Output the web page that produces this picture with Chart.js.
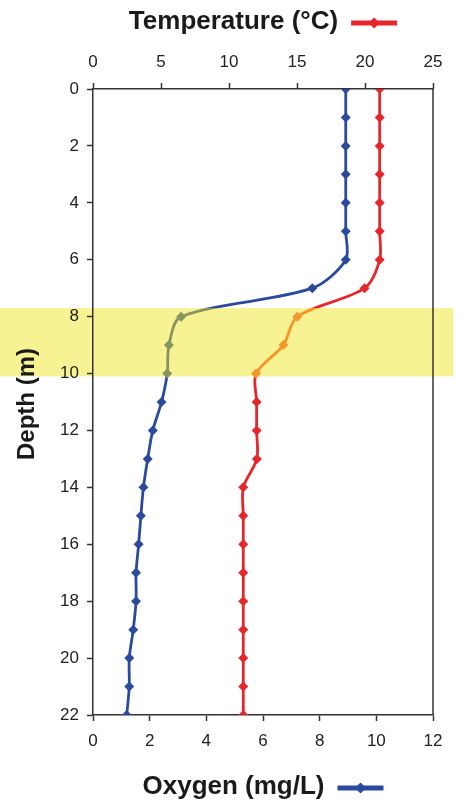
<!DOCTYPE html>
<html>
<head>
<meta charset="utf-8">
<script src="https://cdn.jsdelivr.net/npm/chart.js@4.4.1/dist/chart.umd.min.js"></script>
<style>
  html, body { margin: 0; padding: 0; background: #fff; }
  #wrap { width: 461px; height: 806px; }
</style>
</head>
<body>
<div id="wrap"><canvas id="profileChart"></canvas></div>
<script>
// depth profile data (m)
const depths = [0, 1, 2, 3, 4, 5, 6, 7, 8, 9, 10, 11, 12, 13, 14, 15, 16, 17, 18, 19, 20, 21, 22];
const oxygen = [8.92, 8.92, 8.92, 8.92, 8.92, 8.92, 8.92, 7.74, 3.11, 2.68, 2.62, 2.42, 2.11, 1.93, 1.78, 1.69, 1.61, 1.52, 1.52, 1.42, 1.28, 1.28, 1.19];
const temperature = [21.08, 21.08, 21.08, 21.08, 21.08, 21.08, 21.08, 19.97, 15.02, 14.0, 11.99, 12.03, 12.03, 12.05, 11.05, 11.05, 11.05, 11.05, 11.05, 11.05, 11.05, 11.05, 11.05];
const depthTicks = [0, 2, 4, 6, 8, 10, 12, 14, 16, 18, 20, 22];
const oxygenTicks = [0, 2, 4, 6, 8, 10, 12];
const tempTicks = [0, 5, 10, 15, 20, 25];
// thermocline band (m)
const bandStart = 7.7;
const bandEnd = 10.1;

const FONT = "'Liberation Sans', Arial, sans-serif";
const BLUE = "#2b4a9d";
const OLIVE = "#8a9461";
const RED = "#e7262b";
const ORANGE = "#f5952a";
const BAND = "#f8f392";

function inBand(d) {
  return d >= bandStart && d <= bandEnd;
}

// vertical gradient so the part of the line inside the band changes colour
function bandGradient(context, outside, inside) {
  const chart = context.chart;
  if (!chart.chartArea) return outside;
  const y = chart.scales.y;
  const h = chart.height;
  const t = y.getPixelForValue(bandStart) / h;
  const b = y.getPixelForValue(bandEnd) / h;
  const g = chart.ctx.createLinearGradient(0, 0, 0, h);
  g.addColorStop(0, outside);
  g.addColorStop(t, outside);
  g.addColorStop(t, inside);
  g.addColorStop(b, inside);
  g.addColorStop(b, outside);
  g.addColorStop(1, outside);
  return g;
}

const bandPlugin = {
  id: "band",
  beforeDraw(chart) {
    const { ctx, chartArea, scales } = chart;
    const top = scales.y.getPixelForValue(bandStart);
    const bottom = scales.y.getPixelForValue(bandEnd);
    ctx.save();
    ctx.fillStyle = BAND;
    ctx.fillRect(0, top, chartArea.right + 20, bottom - top);
    ctx.restore();
  },
  beforeDatasetsDraw(chart) {
    // right frame line
    const { ctx, chartArea } = chart;
    ctx.save();
    ctx.strokeStyle = "#333";
    ctx.lineWidth = 1.5;
    ctx.beginPath();
    ctx.moveTo(chartArea.right, chartArea.top);
    ctx.lineTo(chartArea.right, chartArea.bottom);
    ctx.stroke();
    ctx.restore();
  },
};

function drawTitle(ctx, text, cx, cy, color) {
  ctx.font = "bold 26px " + FONT;
  const w = ctx.measureText(text).width;
  const gap = 13, len = 46;
  const x0 = cx - (w + gap + len) / 2;
  ctx.fillStyle = "#1a1a1a";
  ctx.textAlign = "left";
  ctx.textBaseline = "middle";
  ctx.fillText(text, x0, cy);
  const lx = x0 + w + gap;
  ctx.strokeStyle = color;
  ctx.lineWidth = 5;
  ctx.beginPath();
  ctx.moveTo(lx, cy + 1);
  ctx.lineTo(lx + len, cy + 1);
  ctx.stroke();
  ctx.fillStyle = color;
  const mx = lx + len / 2, r = 5.5;
  ctx.beginPath();
  ctx.moveTo(mx, cy + 1 - r);
  ctx.lineTo(mx + r, cy + 1);
  ctx.lineTo(mx, cy + 1 + r);
  ctx.lineTo(mx - r, cy + 1);
  ctx.closePath();
  ctx.fill();
}

const titlePlugin = {
  id: "titles",
  afterDraw(chart) {
    const { ctx, chartArea } = chart;
    const cx = (chartArea.left + chartArea.right) / 2;
    ctx.save();
    drawTitle(ctx, "Temperature (°C)", cx, 22, RED);
    drawTitle(ctx, "Oxygen (mg/L)", cx, 787, BLUE);
    // depth axis title
    ctx.translate(27, (chartArea.top + chartArea.bottom) / 2 + 2);
    ctx.rotate(-Math.PI / 2);
    ctx.font = "bold 24px " + FONT;
    ctx.fillStyle = "#1a1a1a";
    ctx.textAlign = "center";
    ctx.textBaseline = "middle";
    ctx.fillText("Depth (m)", 0, 0);
    ctx.restore();
  },
};

const tickFont = { family: FONT, size: 17 };
const gridOpts = { drawOnChartArea: false, drawTicks: true, tickLength: 6, tickColor: "#333", tickWidth: 1.5 };
const borderOpts = { display: true, color: "#333", width: 1.5 };

const data = {
  datasets: [
    {
      label: "Oxygen (mg/L)",
      data: depths.map((d, i) => ({ x: oxygen[i], y: d })),
      xAxisID: "x",
      yAxisID: "y",
      showLine: true,
      tension: 0.3,
      borderWidth: 2.8,
      borderColor: (c) => bandGradient(c, BLUE, OLIVE),
      pointStyle: "rectRot",
      pointRadius: 5,
      pointBorderWidth: 0,
      pointBackgroundColor: (c) => (inBand(depths[c.dataIndex]) ? OLIVE : BLUE),
      pointBorderColor: (c) => (inBand(depths[c.dataIndex]) ? OLIVE : BLUE),
    },
    {
      label: "Temperature (°C)",
      data: depths.map((d, i) => ({ x: temperature[i], y: d })),
      xAxisID: "x2",
      yAxisID: "y",
      showLine: true,
      tension: 0.3,
      borderWidth: 2.8,
      borderColor: (c) => bandGradient(c, RED, ORANGE),
      pointStyle: "rectRot",
      pointRadius: 5,
      pointBorderWidth: 0,
      pointBackgroundColor: (c) => (inBand(depths[c.dataIndex]) ? ORANGE : RED),
      pointBorderColor: (c) => (inBand(depths[c.dataIndex]) ? ORANGE : RED),
    },
  ],
};

const config = {
  type: "scatter",
  data: data,
  options: {
    responsive: true,
    maintainAspectRatio: false,
    animation: false,
    layout: {
      padding: { left: 0, right: 28, top: 0, bottom: 0 },
    },
    plugins: {
      legend: { display: false },
      tooltip: { enabled: false },
    },
    scales: {
      x: {
        type: "linear",
        position: "bottom",
        min: 0,
        max: 12,
        afterBuildTicks: (s) => { s.ticks = oxygenTicks.map((v) => ({ value: v })); },
        ticks: { font: tickFont, color: "#222", padding: 10 },
        grid: gridOpts,
        border: borderOpts,
        afterFit: (s) => { s.height = 91; },
      },
      x2: {
        type: "linear",
        position: "top",
        min: 0,
        max: 25,
        afterBuildTicks: (s) => { s.ticks = tempTicks.map((v) => ({ value: v })); },
        ticks: { font: tickFont, color: "#222", padding: 10 },
        grid: gridOpts,
        border: borderOpts,
        afterFit: (s) => { s.height = 89; },
      },
      y: {
        type: "linear",
        reverse: true,
        min: 0,
        max: 22,
        afterBuildTicks: (s) => { s.ticks = depthTicks.map((v) => ({ value: v })); },
        ticks: { font: tickFont, color: "#222", padding: 8 },
        grid: gridOpts,
        border: borderOpts,
        afterFit: (s) => { s.width = 93; },
      },
    },
  },
  plugins: [bandPlugin, titlePlugin],
};

const ctx = document.getElementById("profileChart").getContext("2d");
let profileChart = new Chart(ctx, config);
</script>
</body>
</html>
